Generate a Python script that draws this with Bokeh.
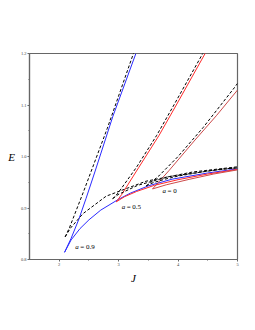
from bokeh.plotting import figure
from bokeh.models import Label, FixedTicker, Range1d
from bokeh.embed import file_html
from bokeh.resources import INLINE

# ---- data ----
# a = 0.9, solid (blue)
J_b_up = [2.09, 2.20, 2.33, 2.45, 2.60, 2.90, 3.29]
E_b_up = [0.814, 0.841, 0.878, 0.918, 0.970, 1.077, 1.200]
J_b_lo = [2.09, 2.20, 2.35, 2.50, 2.70, 3.00, 3.20, 3.50, 3.90, 4.50, 5.00]
E_b_lo = [0.814, 0.838, 0.860, 0.877, 0.896, 0.917, 0.929, 0.943, 0.956, 0.968, 0.976]
# a = 0.9, dashed (black)
J_k9_up = [2.10, 2.17, 2.41, 2.81, 3.27]
E_k9_up = [0.844, 0.861, 0.932, 1.055, 1.207]
J_k9_lo = [2.10, 2.19, 2.40, 2.79, 3.46, 4.25, 5.00]
E_k9_lo = [0.844, 0.861, 0.889, 0.923, 0.952, 0.970, 0.980]
# a = 0.5, solid (red)
J_r_up = [2.96, 3.05, 3.34, 3.68, 3.97, 4.47]
E_r_up = [0.912, 0.926, 0.979, 1.041, 1.100, 1.203]
J_r_lo = [2.96, 3.10, 3.30, 3.60, 4.00, 4.50, 5.00]
E_r_lo = [0.912, 0.922, 0.932, 0.944, 0.955, 0.966, 0.975]
# a = 0.5, dashed (black)
J_k5_up = [2.90, 2.99, 3.30, 3.64, 3.93, 4.43]
E_k5_up = [0.918, 0.929, 0.979, 1.041, 1.100, 1.203]
J_k5_lo = [2.90, 2.99, 3.32, 3.85, 4.77, 5.00]
E_k5_lo = [0.918, 0.926, 0.944, 0.961, 0.976, 0.978]
# a = 0, solid (dark red)
J_d_up = [3.57, 3.85, 4.27, 4.65, 5.00]
E_d_up = [0.937, 0.973, 1.030, 1.080, 1.129]
J_d_lo = [3.57, 3.80, 4.20, 4.60, 5.00]
E_d_lo = [0.937, 0.945, 0.956, 0.966, 0.974]
# a = 0, dashed (black)
J_k0_up = [3.464, 3.536, 3.674, 4.00, 4.42, 4.95, 5.00]
E_k0_up = [0.943, 0.949, 0.962, 1.000, 1.056, 1.134, 1.142]
J_k0_lo = [3.464, 3.50, 3.578, 3.78, 4.00, 4.50, 5.00]
E_k0_lo = [0.943, 0.945, 0.949, 0.956, 0.962, 0.972, 0.978]

x_ticks = [2, 3, 4, 5]
x_minor = [2.5, 3.5, 4.5]
y_ticks = [0.8, 0.9, 1.0, 1.1, 1.2]
y_labels = ["0.8", "0.9", "1.0", "1.1", "1.2"]
y_minor = [0.85, 0.95, 1.05, 1.15]

p = figure(width=247, height=322, x_range=Range1d(1.5, 5), y_range=Range1d(0.8, 1.2),
           output_backend="svg", toolbar_location=None,
           min_border_left=29, min_border_right=10, min_border_top=53, min_border_bottom=63)
p.grid.visible = False
p.outline_line_color = "#666666"
p.outline_line_width = 1.2
p.background_fill_color = "white"
p.border_fill_color = "white"

p.xaxis.ticker = FixedTicker(ticks=x_ticks, minor_ticks=x_minor)
p.yaxis.ticker = FixedTicker(ticks=y_ticks, minor_ticks=y_minor)
p.yaxis.major_label_overrides = {t: s for t, s in zip(y_ticks, y_labels)}
for ax in (p.xaxis, p.yaxis):
    ax.axis_line_color = "#666666"
    ax.axis_line_width = 1.2
    ax.major_tick_line_color = "#666666"
    ax.minor_tick_line_color = "#666666"
    ax.major_tick_in = 0
    ax.major_tick_out = 2
    ax.minor_tick_in = 0
    ax.minor_tick_out = 1
    ax.major_label_text_font = "Liberation Serif"
    ax.major_label_text_font_size = "4.5px"
    ax.major_label_text_color = "#444444"
    ax.major_label_standoff = 1
    ax.axis_label_text_font = "Liberation Serif"
    ax.axis_label_text_font_style = "italic"
    ax.axis_label_text_font_size = "11px"
    ax.axis_label_text_color = "black"
    ax.axis_label_standoff = 3

p.xaxis.axis_label = "J"
p.yaxis.axis_label = "E"
p.yaxis.axis_label_orientation = "horizontal"

blue = "#2a2aff"
red = "#ff2a2a"
dred = "#cc4a4a"
lw = 1.0

p.line(J_b_up, E_b_up, line_color=blue, line_width=lw)
p.line(J_b_lo, E_b_lo, line_color=blue, line_width=lw)
p.line(J_r_up, E_r_up, line_color=red, line_width=lw)
p.line(J_r_lo, E_r_lo, line_color=red, line_width=lw)
p.line(J_d_up, E_d_up, line_color=dred, line_width=lw)
p.line(J_d_lo, E_d_lo, line_color=dred, line_width=lw)

for xs, ys in [(J_k9_up, E_k9_up), (J_k9_lo, E_k9_lo), (J_k5_up, E_k5_up),
               (J_k5_lo, E_k5_lo), (J_k0_up, E_k0_up), (J_k0_lo, E_k0_lo)]:
    p.line(xs, ys, line_color="black", line_width=lw, line_dash="3 2")

serif = "Liberation Serif"
for (lx, ly, t) in [(2.271, 0.825, "= 0.9"), (3.051, 0.902, "= 0.5"), (3.74, 0.933, "= 0")]:
    p.add_layout(Label(x=lx, y=ly, text="a", text_font=serif, text_font_style="italic",
                       text_font_size="7px", text_align="left", text_baseline="middle",
                       text_color="black"))
    p.add_layout(Label(x=lx, y=ly, x_offset=5, text=t, text_font=serif,
                       text_font_size="7px", text_align="left", text_baseline="middle",
                       text_color="black"))

open("out.html", "w").write(file_html(p, INLINE))
